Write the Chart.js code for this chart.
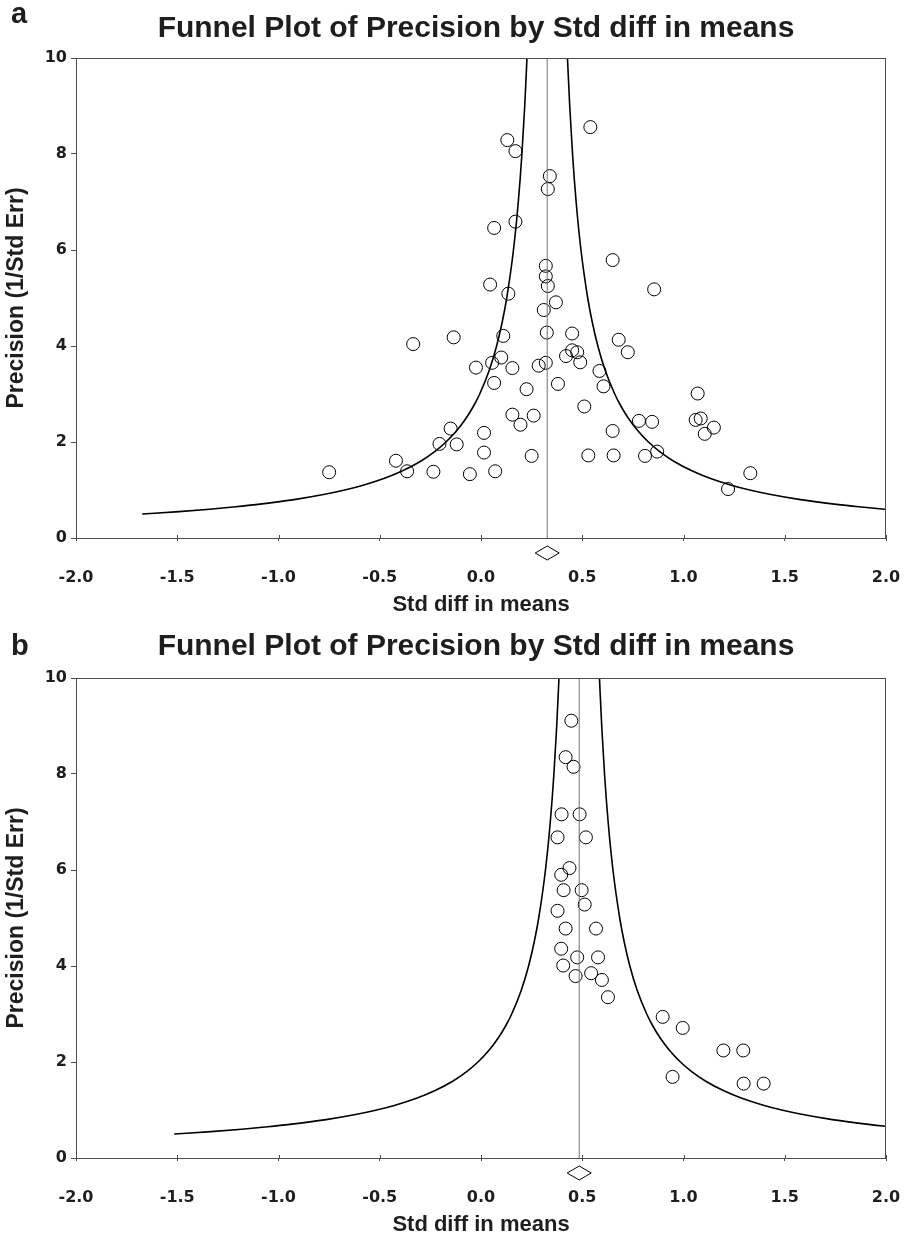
<!DOCTYPE html>
<html>
<head>
<meta charset="utf-8">
<title>Funnel plots</title>
<script src="https://cdn.jsdelivr.net/npm/chart.js@4.4.1/dist/chart.umd.min.js"></script>
<style>
  html, body { margin: 0; padding: 0; background: #fff; }
  canvas { display: block; }
</style>
</head>
<body>
<canvas id="chartA" width="908" height="620"></canvas>
<canvas id="chartB" width="908" height="623"></canvas>
<script>
// panel a - std diff in means (x) / precision (y)
const studiesAx = [0.54, 0.13, 0.17, 0.34, 0.33, 0.17, 0.065, 0.65, 0.32, 0.32, 0.33, 0.045, 0.135, 0.855,
  0.37, 0.31, -0.135, 0.11, 0.325, 0.45, 0.68, 0.725, 0.45, 0.475, 0.42, 0.49, 0.10, 0.055, -0.025, 0.155,
  0.285, 0.32, 0.585, 0.065, 0.38, 0.605, 0.225, 1.07, 0.51, 0.155, 0.26, 0.195, 0.78, 0.845, 1.06, 1.085,
  1.15, 1.105, 0.65, 0.015, -0.12, 0.015, 0.25, 0.53, 0.655, 0.81, 0.87, -0.055, 0.07, 1.33, 1.22, -0.15,
  -0.335, -0.205, -0.42, -0.365, -0.235, -0.75];
const studiesAy = [8.56, 8.29, 8.06, 7.54, 7.27, 6.59, 6.46, 5.79, 5.67, 5.45, 5.25, 5.28, 5.09, 5.18,
  4.91, 4.75, 4.18, 4.21, 4.28, 4.26, 4.13, 3.87, 3.91, 3.87, 3.79, 3.66, 3.76, 3.65, 3.55, 3.54,
  3.59, 3.65, 3.48, 3.23, 3.21, 3.16, 3.10, 3.01, 2.74, 2.57, 2.55, 2.36, 2.44, 2.42, 2.46, 2.49,
  2.30, 2.17, 2.23, 2.19, 1.95, 1.78, 1.71, 1.72, 1.72, 1.71, 1.80, 1.33, 1.39, 1.35, 1.02, 2.28,
  4.04, 1.96, 1.61, 1.39, 1.38, 1.37];
const pooledA = 0.327;

// panel b
const studiesBx = [0.446, 0.418, 0.457, 0.398, 0.487, 0.378, 0.518, 0.437, 0.396, 0.408, 0.497, 0.512,
  0.378, 0.418, 0.568, 0.396, 0.475, 0.578, 0.406, 0.467, 0.544, 0.597, 0.627, 0.897, 0.996, 1.197,
  1.295, 0.946, 1.297, 1.396];
const studiesBy = [9.11, 8.35, 8.15, 7.16, 7.16, 6.68, 6.68, 6.04, 5.90, 5.58, 5.58, 5.28,
  5.15, 4.78, 4.78, 4.36, 4.18, 4.18, 4.01, 3.79, 3.85, 3.71, 3.35, 2.94, 2.71, 2.24,
  2.24, 1.69, 1.55, 1.55];
const pooledB = 0.485;

// precision levels where the funnel limits are drawn
const funnelPrecision = [0.5, 0.55, 0.6, 0.65, 0.7, 0.8, 0.9, 1, 1.1, 1.25, 1.4, 1.6, 1.8, 2, 2.25,
  2.5, 2.75, 3, 3.5, 4, 4.5, 5, 6, 7, 8, 9, 10];
const FUNNEL_Z = 1.0;

const xTickValues = [-2, -1.5, -1, -0.5, 0, 0.5, 1, 1.5, 2];
const xTickLabels = ["-2.0", "-1.5", "-1.0", "-0.5", "0.0", "0.5", "1.0", "1.5", "2.0"];
const yTickValues = [0, 2, 4, 6, 8, 10];
const yTickLabels = ["0", "2", "4", "6", "8", "10"];

const TITLE = "Funnel Plot of Precision by Std diff in means";
const AXIS = "#4d4d4d";
const TXT = "#1e1e1e";
const SANS = "'Liberation Sans', Arial, sans-serif";
const TICKFONT = "'DejaVu Sans', sans-serif";

// frame, inner x ticks, pooled diamond, panel letter and title
const funnelDecor = {
  id: "funnelDecor",
  afterDraw(chart, args, opts) {
    const { ctx, chartArea: a } = chart;
    const xs = chart.scales.x;
    ctx.save();
    ctx.strokeStyle = AXIS;
    ctx.lineWidth = 1;
    ctx.strokeRect(Math.round(a.left) + 0.5, Math.round(a.top) + 0.5,
      Math.round(a.right - a.left) - 1, Math.round(a.bottom - a.top));
    ctx.beginPath();
    xTickValues.forEach(v => {
      const px = Math.round(xs.getPixelForValue(v)) + 0.5;
      ctx.moveTo(px, a.bottom);
      ctx.lineTo(px, a.bottom - 3);
    });
    ctx.stroke();

    // diamond for the pooled estimate
    const cx = xs.getPixelForValue(opts.pooled);
    const cy = a.bottom + 15;
    ctx.beginPath();
    ctx.moveTo(cx - 12, cy);
    ctx.lineTo(cx, cy - 7);
    ctx.lineTo(cx + 12, cy);
    ctx.lineTo(cx, cy + 7);
    ctx.closePath();
    ctx.fillStyle = "#fff";
    ctx.fill();
    ctx.strokeStyle = "#000";
    ctx.stroke();

    ctx.fillStyle = TXT;
    ctx.textBaseline = "alphabetic";
    ctx.font = "bold 29px " + SANS;
    ctx.textAlign = "left";
    ctx.fillText(opts.letter, 11, opts.letterY);
    ctx.font = "bold 30px " + SANS;
    ctx.textAlign = "center";
    ctx.fillText(TITLE, 476, opts.titleY);
    ctx.restore();
  }
};

function buildChart(id, xs, ys, pooled, letter, letterY, titleY, canvasH) {
  const points = xs.map((x, i) => ({ x: x, y: ys[i] }));
  const left = funnelPrecision.map(p => ({ x: pooled - FUNNEL_Z / p, y: p }));
  const right = funnelPrecision.map(p => ({ x: pooled + FUNNEL_Z / p, y: p }));

  return new Chart(document.getElementById(id), {
    type: "scatter",
    data: {
      datasets: [
        { data: [{ x: pooled, y: 0 }, { x: pooled, y: 10 }], showLine: true, borderColor: "#707070",
          borderWidth: 1, pointRadius: 0, clip: 0 },
        { data: left, showLine: true, borderColor: "#000", borderWidth: 1.6, pointRadius: 0,
          cubicInterpolationMode: "monotone", clip: 0 },
        { data: right, showLine: true, borderColor: "#000", borderWidth: 1.6, pointRadius: 0,
          cubicInterpolationMode: "monotone", clip: 0 },
        { data: points, pointStyle: "circle", pointRadius: 6.5, pointBorderWidth: 1,
          borderColor: "#000", backgroundColor: "rgba(0,0,0,0)" }
      ]
    },
    options: {
      responsive: false,
      animation: false,
      layout: { padding: { top: 58, right: 22, left: 0, bottom: 0 } },
      plugins: {
        legend: { display: false },
        tooltip: { enabled: false },
        funnelDecor: { pooled: pooled, letter: letter, letterY: letterY, titleY: titleY }
      },
      scales: {
        x: {
          type: "linear",
          min: -2, max: 2,
          afterBuildTicks: s => { s.ticks = xTickValues.map(v => ({ value: v })); },
          afterFit: s => { s.height = canvasH - 538; s.paddingLeft = 0; s.paddingRight = 0; },
          border: { display: false },
          grid: { drawOnChartArea: false, drawTicks: true, tickLength: 3, color: AXIS },
          ticks: {
            padding: 27,
            color: TXT,
            font: { family: TICKFONT, weight: "bold", size: 16 },
            callback: (v, i) => xTickLabels[i]
          },
          title: {
            display: true,
            text: "Std diff in means",
            color: TXT,
            font: { family: SANS, weight: "bold", size: 22 },
            padding: { top: 0, bottom: canvasH - 620 + 2 }
          }
        },
        y: {
          type: "linear",
          min: 0, max: 10,
          afterBuildTicks: s => { s.ticks = yTickValues.map(v => ({ value: v })); },
          afterFit: s => { s.width = 76; s.paddingTop = 0; s.paddingBottom = 0; },
          border: { display: false },
          grid: { drawOnChartArea: false, drawTicks: true, tickLength: 5, color: AXIS },
          ticks: {
            padding: 4,
            color: TXT,
            font: { family: TICKFONT, weight: "bold", size: 16 },
            callback: (v, i) => yTickLabels[i]
          },
          title: {
            display: true,
            text: "Precision (1/Std Err)",
            color: TXT,
            font: { family: SANS, weight: "bold", size: 23 },
            padding: { top: 3, bottom: 0 }
          }
        }
      }
    },
    plugins: [funnelDecor]
  });
}

buildChart("chartA", studiesAx, studiesAy, pooledA, "a", 23, 37, 620);
buildChart("chartB", studiesBx, studiesBy, pooledB, "b", 35, 35, 623);
</script>
</body>
</html>
